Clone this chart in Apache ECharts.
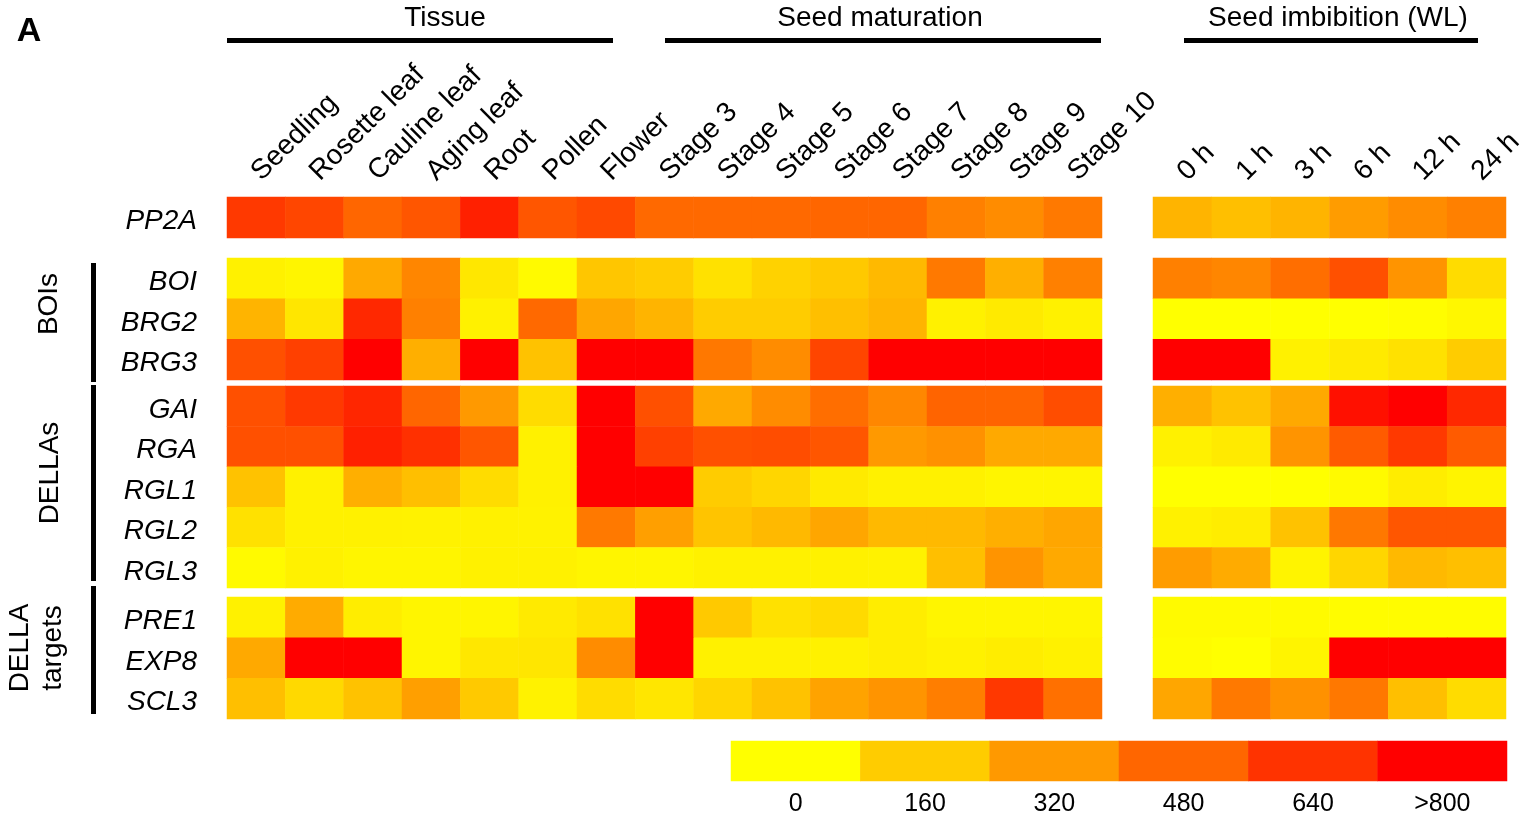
<!DOCTYPE html>
<html><head><meta charset="utf-8">
<script src="https://cdn.jsdelivr.net/npm/echarts@6/dist/echarts.min.js"></script>
<style>html,body{margin:0;padding:0;background:#fff}#c{width:1538px;height:817px}</style>
</head><body><div id="c"></div>
<script>
// ---- categories ----
const tissueCols = ['Seedling','Rosette leaf','Cauline leaf','Aging leaf','Root','Pollen','Flower','Stage 3','Stage 4','Stage 5','Stage 6','Stage 7','Stage 8','Stage 9','Stage 10'];
const imbibCols = ['0 h','1 h','3 h','6 h','12 h','24 h'];
const rowsRef = ['PP2A'];
const rowsBOI = ['BOI','BRG2','BRG3'];
const rowsDELLA = ['GAI','RGA','RGL1','RGL2','RGL3'];
const rowsTarget = ['PRE1','EXP8','SCL3'];

// ---- values (left: tissue + seed maturation, right: imbibition) ----
const PP2A_L = [620,580,480,530,700,530,570,470,470,470,480,480,400,360,420];
const PP2A_R = [235,200,235,310,360,400];
const BOI_L  = [45,30,270,380,75,15,180,160,95,140,170,220,420,250,400];
const BOI_R  = [400,380,455,550,335,110];
const BRG2_L = [235,80,675,400,45,470,280,235,160,160,200,235,45,65,45];
const BRG2_R = [0,0,0,0,5,25];
const BRG3_L = [550,600,800,250,800,190,800,800,425,360,585,800,800,800,800];
const BRG3_R = [800,800,45,65,95,160];
const GAI_L  = [550,620,680,480,320,110,800,550,270,360,455,375,485,485,560];
const GAI_R  = [250,190,270,750,800,675];
const RGA_L  = [550,550,700,650,530,45,800,600,550,560,530,320,345,270,270];
const RGA_R  = [45,65,335,515,620,515];
const RGL1_L = [190,45,250,200,110,45,800,800,160,130,65,45,45,30,30];
const RGL1_R = [0,0,0,15,55,35];
const RGL2_L = [95,45,45,40,45,40,420,300,185,220,280,220,220,250,280];
const RGL2_R = [45,55,190,425,530,530];
const RGL3_L = [15,45,30,30,45,45,30,30,45,45,45,40,200,335,270];
const RGL3_R = [310,265,35,130,220,200];
const PRE1_L = [45,265,55,30,30,65,95,800,170,95,115,55,30,30,30];
const PRE1_R = [15,15,15,10,10,10];
const EXP8_L = [270,800,800,30,75,80,360,800,45,45,45,55,45,55,45];
const EXP8_R = [10,0,35,800,800,800];
const SCL3_L = [200,120,190,300,170,40,110,80,130,190,290,335,405,625,450];
const SCL3_R = [280,420,345,425,200,110];

// ---- colour key ----
const legendTicks = ['0','160','320','480','640','>800'];
const legendValues = [0,160,320,480,640,800];

const groups = [
  {rows: rowsRef,    L: [PP2A_L], R: [PP2A_R], top: 197, height: 41},
  {rows: rowsBOI,    L: [BOI_L, BRG2_L, BRG3_L], R: [BOI_R, BRG2_R, BRG3_R], top: 258, height: 122},
  {rows: rowsDELLA,  L: [GAI_L, RGA_L, RGL1_L, RGL2_L, RGL3_L], R: [GAI_R, RGA_R, RGL1_R, RGL2_R, RGL3_R], top: 386, height: 202},
  {rows: rowsTarget, L: [PRE1_L, EXP8_L, SCL3_L], R: [PRE1_R, EXP8_R, SCL3_R], top: 597, height: 122}
];
const panels = [
  {key: 'L', cols: tissueCols, left: 227, width: 875},
  {key: 'R', cols: imbibCols, left: 1153, width: 353}
];

const FONT = "'Liberation Sans', Arial, Helvetica, sans-serif";
const grid = [], xAxis = [], yAxis = [], series = [];
let k = 0;
groups.forEach((g, gi) => {
  panels.forEach((p, pi) => {
    grid.push({left: p.left, top: g.top, width: p.width, height: g.height, containLabel: false});
    xAxis.push({
      type: 'category', gridIndex: k, data: p.cols, position: 'top',
      axisLine: {show: false}, axisTick: {show: false}, splitLine: {show: false},
      axisLabel: gi === 0 ? {
        show: true, interval: 0, rotate: -45, color: '#000', fontFamily: FONT, fontSize: 28,
        margin: 21, verticalAlign: 'middle'
      } : {show: false}
    });
    yAxis.push({
      type: 'category', gridIndex: k, data: g.rows, inverse: true,
      axisLine: {show: false}, axisTick: {show: false}, splitLine: {show: false},
      axisLabel: pi === 0 ? {
        show: true, interval: 0, margin: 30,
        formatter: v => '{g|' + v + '}',
        rich: {g: {color: '#000', fontFamily: FONT, fontSize: 28, fontStyle: 'italic', padding: [8, 0, 0, 0]}}
      } : {show: false}
    });
    const data = [];
    g[p.key].forEach((arr, r) => arr.forEach((v, c) => data.push([c, r, v])));
    series.push({
      type: 'heatmap', xAxisIndex: k, yAxisIndex: k, data: data,
      itemStyle: {borderWidth: 0}, emphasis: {disabled: true}, label: {show: false}
    });
    k++;
  });
});

// colour key grid
grid.push({left: 731, top: 741, width: 776, height: 40});
xAxis.push({
  type: 'category', gridIndex: k, data: legendTicks, position: 'bottom',
  axisLine: {show: false}, axisTick: {show: false}, splitLine: {show: false},
  axisLabel: {show: true, interval: 0, margin: 11, color: '#000', fontFamily: FONT, fontSize: 25}
});
yAxis.push({
  type: 'category', gridIndex: k, data: [''],
  axisLine: {show: false}, axisTick: {show: false}, splitLine: {show: false}, axisLabel: {show: false}
});
series.push({
  type: 'heatmap', xAxisIndex: k, yAxisIndex: k,
  data: legendValues.map((v, i) => [i, 0, v]),
  itemStyle: {borderWidth: 0}, emphasis: {disabled: true}
});

function txt(text, x, y, size, opts) {
  opts = opts || {};
  return {
    type: 'text', x: x, y: y, rotation: opts.rotation || 0, silent: true,
    style: {
      text: text, fill: '#000', font: (opts.weight || 'normal') + ' ' + size + 'px ' + FONT,
      textAlign: opts.align || 'center', textVerticalAlign: 'middle',
      align: opts.align || 'center', verticalAlign: 'middle',
      lineHeight: opts.lineHeight
    }
  };
}
function bar(x, y, w, h) {
  return {type: 'rect', silent: true, shape: {x: x, y: y, width: w, height: h}, style: {fill: '#000'}};
}

const graphic = [
  txt('A', 29, 32, 34, {weight: 'bold'}),
  txt('Tissue', 445, 18, 28),
  txt('Seed maturation', 880, 18, 28),
  txt('Seed imbibition (WL)', 1338, 18, 28),
  bar(227, 38, 386, 5),
  bar(665, 38, 436, 5),
  bar(1184, 38, 294, 5),
  txt('BOIs', 49, 304, 28, {rotation: Math.PI / 2}),
  txt('DELLAs', 50, 473, 28, {rotation: Math.PI / 2}),
  txt('DELLA\ntargets', 37, 648, 28, {rotation: Math.PI / 2, lineHeight: 33}),
  bar(91, 263, 5, 119),
  bar(91, 385, 5, 196),
  bar(91, 586, 5, 128)
];

const chart = echarts.init(document.getElementById('c'), null, {renderer: 'canvas'});
chart.setOption({
  animation: false,
  backgroundColor: '#fff',
  grid: grid, xAxis: xAxis, yAxis: yAxis, series: series,
  visualMap: {
    type: 'continuous', show: false, min: 0, max: 800, dimension: 2,
    seriesIndex: series.map((s, i) => i),
    inRange: {color: ['#FFFF00', '#FF0000']}
  },
  graphic: graphic
});
</script></body></html>
